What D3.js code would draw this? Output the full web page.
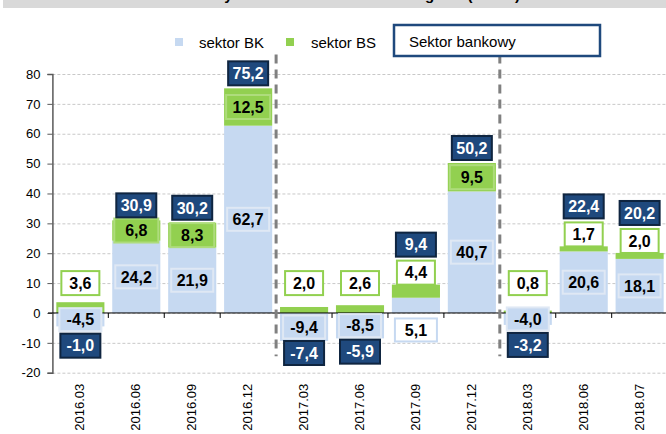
<!DOCTYPE html>
<html>
<head>
<meta charset="utf-8">
<script src="https://cdn.jsdelivr.net/npm/d3@7"></script>
<style>
  body { margin: 0; background: #fff; }
  svg { display: block; font-family: "Liberation Sans", Arial, sans-serif; }
</style>
</head>
<body>
<svg id="chart" width="666" height="434"></svg>
<script>
  // dane
  var categories = ["2016.03", "2016.06", "2016.09", "2016.12", "2017.03", "2017.06",
                    "2017.09", "2017.12", "2018.03", "2018.06", "2018.07"];
  var sektorBK = [-4.5, 24.2, 21.9, 62.7, -9.4, -8.5, 5.1, 40.7, -4.0, 20.6, 18.1];
  var sektorBS = [3.6, 6.8, 8.3, 12.5, 2.0, 2.6, 4.4, 9.5, 0.8, 1.7, 2.0];
  var sektorBankowy = [-1.0, 30.9, 30.2, 75.2, -7.4, -5.9, 9.4, 50.2, -3.2, 22.4, 20.2];
  var yTicks = [-20, -10, 0, 10, 20, 30, 40, 50, 60, 70, 80];
  var separatorsBefore = ["2017.03", "2018.03"];
  var title = "Zmiana zysku netto sektora bankowego r/r (mln zł)";

  var colBK = "#c6d9f1", colBS = "#92d050", colTotal = "#1f497d";

  var svg = d3.select("#chart");
  var pl = d3.formatLocale({ decimal: ",", thousands: " ", grouping: [3],
                             currency: ["", ""], minus: "-" });
  var fmt = pl.format(".1f");
  var fmtTick = pl.format("d");

  var x = d3.scaleBand().domain(categories).range([52.4, 667.6])
            .paddingInner(0.14).paddingOuter(0.07);
  var y = d3.scaleLinear().domain([-20, 80]).range([372.7, 74]);

  var rows = categories.map(function (c, i) {
    return { cat: c, bk: sektorBK[i], bs: sektorBS[i], total: sektorBankowy[i] };
  });
  var series = d3.stack().keys(["bk", "bs"]).offset(d3.stackOffsetDiverging)(rows);

  // pasek tytułu (ucięty u góry)
  svg.append("rect").attr("x", 3).attr("y", 0).attr("width", 663).attr("height", 8)
     .attr("fill", "#d9d9d9");
  svg.append("text").attr("x", 340).attr("y", -0.5).attr("text-anchor", "middle")
     .attr("font-size", 15).attr("font-weight", "bold").text(title);

  // siatka
  svg.append("g").attr("transform", "translate(52.4,0)")
     .call(d3.axisLeft(y).tickValues(yTicks).tickSize(-620).tickFormat(""))
     .call(function (g) {
       g.select(".domain").remove();
       g.selectAll("line").attr("stroke", "#c8c8c8").attr("stroke-dasharray", "3,2");
     });

  // słupki
  svg.append("g").selectAll("g").data(series).enter().append("g")
     .attr("fill", function (d) { return d.key == "bk" ? colBK : colBS; })
     .selectAll("rect").data(function (d) { return d; }).enter().append("rect")
     .attr("x", function (d) { return x(d.data.cat); })
     .attr("width", x.bandwidth())
     .attr("y", function (d) { return y(Math.max(d[0], d[1])); })
     .attr("height", function (d) { return Math.abs(y(d[0]) - y(d[1])); });

  // oś Y
  svg.append("g").attr("transform", "translate(52.4,0)")
     .call(d3.axisLeft(y).tickValues(yTicks).tickSize(5).tickPadding(7).tickFormat(fmtTick))
     .call(function (g) {
       g.select(".domain").attr("stroke", "#595959").attr("stroke-width", 1.5);
       g.selectAll("line").attr("stroke", "#595959");
       g.selectAll("text").attr("font-size", 13).attr("fill", "#000")
        .attr("font-family", "Liberation Sans, Arial, sans-serif");
     });

  // linia zera z kreskami między kategoriami
  var step = x.step();
  svg.append("line").attr("x1", 48).attr("x2", 666)
     .attr("y1", y(0)).attr("y2", y(0)).attr("stroke", "#000").attr("stroke-width", 1);
  svg.append("g").selectAll("line").data(categories.slice(1)).enter().append("line")
     .attr("x1", function (c) { return x(c) - step * x.paddingInner() / 2; })
     .attr("x2", function (c) { return x(c) - step * x.paddingInner() / 2; })
     .attr("y1", y(0)).attr("y2", y(0) + 5).attr("stroke", "#000");

  // etykiety osi X
  svg.append("g").selectAll("text").data(categories).enter().append("text")
     .attr("transform", function (c) {
       return "translate(" + (x(c) + x.bandwidth() / 2 + 4) + "," + (y(-20) + 11) + ") rotate(-90)";
     })
     .attr("text-anchor", "end").attr("font-size", 13).text(function (c) { return c; });

  // przerywane separatory lat
  svg.append("g").selectAll("line").data(separatorsBefore).enter().append("line")
     .attr("x1", function (c) { return x(c) - step * x.paddingInner() / 2; })
     .attr("x2", function (c) { return x(c) - step * x.paddingInner() / 2; })
     .attr("y1", y(86.5)).attr("y2", y(-14.5))
     .attr("stroke", "#808080").attr("stroke-width", 3).attr("stroke-dasharray", "9,6");

  // pozycje etykiet
  var labels = [];
  rows.forEach(function (r) {
    var cx = x(r.cat) + x.bandwidth() / 2;
    var bkY, bkFill = colBK;
    if (r.bk > 0 && r.bk < 10) { bkY = y(0) + 17; bkFill = "#fff"; }
    else bkY = y(r.bk / 2);
    var top = Math.max(r.bk, 0) + r.bs;
    var bsInside = r.bs >= 5;
    var bsY = bsInside ? y(top - r.bs / 2) : y(Math.max(top + 4, 10));
    var totY;
    if (r.total < 0) totY = bkY + 26;
    else if (bsInside) totY = y(top) - 15;
    else totY = bsY - 28;

    labels.push({ cx: cx, cy: bkY, w: 42, h: 23, fill: bkFill,
                  stroke: bkFill == "#fff" ? colBK : "#dfe8f4", text: fmt(r.bk), color: "#000" });
    labels.push({ cx: cx, cy: bsY, w: bsInside ? 44 : 38, h: 24,
                  fill: bsInside ? colBS : "#fff", stroke: bsInside ? "#aedc7c" : colBS,
                  text: fmt(r.bs), color: "#000" });
    labels.push({ cx: cx, cy: totY, w: 40, h: 24, fill: colTotal, stroke: "#0f2540",
                  text: fmt(r.total), color: "#fff" });
  });

  var lab = svg.append("g").selectAll("g").data(labels).enter().append("g");
  lab.append("rect")
     .attr("x", function (d) { return d.cx - d.w / 2; })
     .attr("y", function (d) { return d.cy - d.h / 2; })
     .attr("width", function (d) { return d.w; })
     .attr("height", function (d) { return d.h; })
     .attr("fill", function (d) { return d.fill; })
     .attr("stroke", function (d) { return d.stroke; })
     .attr("stroke-width", 2);
  lab.append("text")
     .attr("x", function (d) { return d.cx; })
     .attr("y", function (d) { return d.cy; })
     .attr("dy", "0.36em").attr("text-anchor", "middle")
     .attr("font-size", 16).attr("font-weight", "bold")
     .attr("fill", function (d) { return d.color; })
     .text(function (d) { return d.text; });

  // legenda
  var legend = svg.append("g");
  legend.append("rect").attr("x", 175).attr("y", 38).attr("width", 8).attr("height", 8).attr("fill", colBK);
  legend.append("text").attr("x", 199).attr("y", 47.5).attr("font-size", 15).text("sektor BK");
  legend.append("rect").attr("x", 286).attr("y", 38).attr("width", 8).attr("height", 8).attr("fill", colBS);
  legend.append("text").attr("x", 311).attr("y", 47.5).attr("font-size", 15).text("sektor BS");
  legend.append("rect").attr("x", 394).attr("y", 25).attr("width", 206).attr("height", 31)
        .attr("fill", "#fff").attr("stroke", colTotal).attr("stroke-width", 2.5);
  legend.append("text").attr("x", 409).attr("y", 46.5).attr("font-size", 15).text("Sektor bankowy");
</script>
</body>
</html>
